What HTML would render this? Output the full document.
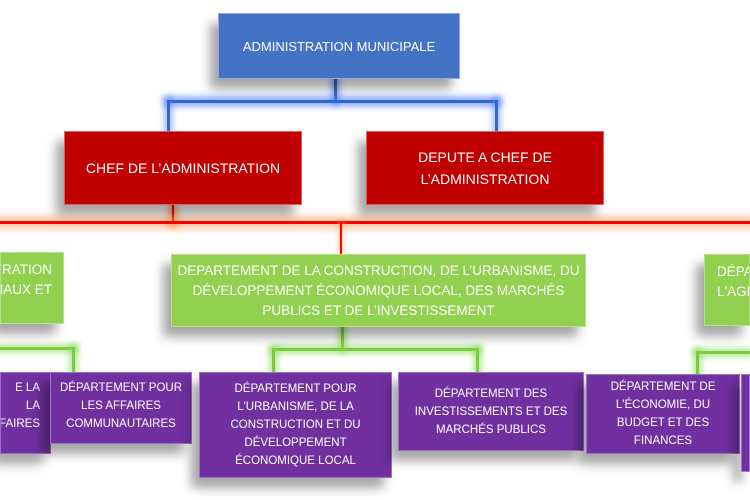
<!DOCTYPE html>
<html><head><meta charset="utf-8"><style>
html,body{margin:0;width:750px;height:500px;overflow:hidden;}
body{background:#fff;position:relative;font-family:"Liberation Sans",sans-serif;}
.b{position:absolute;display:flex;align-items:center;justify-content:center;text-align:center;color:#fff;box-sizing:border-box;box-shadow:-8px 10px 10px rgba(0,0,0,0.35);}
.bl{background:#4472c4;border:1px solid #8faadc;font-size:13px;}
.rd{background:#c00000;border:1px solid #e06060;font-size:14px;line-height:22px;}
.gr{background:#92d050;border:1px solid #b5e08a;font-size:13.5px;line-height:20px;}
.pu{background:#7030a0;border:1px solid #a070c8;font-size:11.5px;line-height:18px;}
.clip{overflow:hidden;white-space:nowrap;}
.l{position:absolute;}
</style></head><body>
<div class="l" style="left:334px;top:78px;width:3px;height:24px;background:#3366cc;box-shadow:0 0 6px 3px rgba(80,130,255,0.6)"></div>
<div class="l" style="left:167px;top:100px;width:331px;height:3px;background:#3366cc;box-shadow:0 0 6px 4px rgba(80,130,255,0.6)"></div>
<div class="l" style="left:167px;top:100px;width:3px;height:32px;background:#3366cc;box-shadow:0 0 6px 3px rgba(80,130,255,0.5)"></div>
<div class="l" style="left:495px;top:100px;width:3px;height:32px;background:#3366cc;box-shadow:0 0 6px 3px rgba(80,130,255,0.5)"></div>
<div class="l" style="left:172px;top:204px;width:2px;height:20px;background:#f00;box-shadow:0 0 6px 4px rgba(255,140,60,0.6)"></div>
<div class="l" style="left:0;top:221px;width:750px;height:3px;background:#f00;box-shadow:0 0 7px 5px rgba(255,150,80,0.5)"></div>
<div class="l" style="left:340px;top:222px;width:2px;height:32px;background:#f00;box-shadow:0 0 5px 2px rgba(255,150,80,0.4)"></div>
<div class="l" style="left:0;top:347px;width:75px;height:3px;background:#7ccc40;box-shadow:0 0 6px 3px rgba(140,220,90,0.6)"></div>
<div class="l" style="left:72px;top:347px;width:3px;height:26px;background:#7ccc40;box-shadow:0 0 6px 3px rgba(140,220,90,0.6)"></div>
<div class="l" style="left:341px;top:326px;width:3px;height:24px;background:#7ccc40;box-shadow:0 0 6px 3px rgba(140,220,90,0.6)"></div>
<div class="l" style="left:272px;top:348px;width:207px;height:3px;background:#7ccc40;box-shadow:0 0 6px 3px rgba(140,220,90,0.6)"></div>
<div class="l" style="left:272px;top:348px;width:3px;height:25px;background:#7ccc40;box-shadow:0 0 6px 3px rgba(140,220,90,0.6)"></div>
<div class="l" style="left:476px;top:348px;width:3px;height:25px;background:#7ccc40;box-shadow:0 0 6px 3px rgba(140,220,90,0.6)"></div>
<div class="l" style="left:696px;top:351px;width:54px;height:3px;background:#7ccc40;box-shadow:0 0 6px 3px rgba(140,220,90,0.6)"></div>
<div class="l" style="left:696px;top:351px;width:3px;height:24px;background:#7ccc40;box-shadow:0 0 6px 3px rgba(140,220,90,0.6)"></div>

<div class="b bl" style="left:218px;top:13px;width:242px;height:66px;">ADMINISTRATION MUNICIPALE</div>
<div class="b rd" style="left:64px;top:131px;width:238px;height:74px;">CHEF DE L’ADMINISTRATION</div>
<div class="b rd" style="left:366px;top:131px;width:238px;height:74px;">DEPUTE A CHEF DE<br>L’ADMINISTRATION</div>

<div class="b gr clip" style="left:0;top:252px;width:64px;height:72px;align-items:flex-start;justify-content:flex-end;text-align:right;padding-top:7px;padding-right:11px;">TRATION<br>NAUX ET</div>
<div class="b gr" style="left:171px;top:254px;width:415px;height:73px;">DEPARTEMENT DE LA CONSTRUCTION, DE L’URBANISME, DU<br>DÉVELOPPEMENT ÉCONOMIQUE LOCAL, DES MARCHÉS<br>PUBLICS ET DE L’INVESTISSEMENT</div>
<div class="b gr clip" style="left:704px;top:254px;width:46px;height:72px;align-items:flex-start;justify-content:flex-start;text-align:left;padding-top:7px;padding-left:12px;">DÉPA<br>L'AGR</div>

<div class="b pu clip" style="left:0;top:372px;width:51px;height:82px;justify-content:flex-end;text-align:right;padding-right:10px;align-items:flex-start;padding-top:6px;">E LA<br>LA<br>FFAIRES</div>
<div class="b pu" style="left:50px;top:372px;width:142px;height:72px;align-items:flex-start;padding-top:6px;">DÉPARTEMENT POUR<br>LES AFFAIRES<br>COMMUNAUTAIRES</div>
<div class="b pu" style="left:199px;top:372px;width:193px;height:106px;">DÉPARTEMENT POUR<br>L'URBANISME, DE LA<br>CONSTRUCTION ET DU<br>DÉVELOPPEMENT<br>ÉCONOMIQUE LOCAL</div>
<div class="b pu" style="left:398px;top:372px;width:186px;height:79px;">DÉPARTEMENT DES<br>INVESTISSEMENTS ET DES<br>MARCHÉS PUBLICS</div>
<div class="b pu" style="left:586px;top:374px;width:154px;height:80px;">DÉPARTEMENT DE<br>L'ÉCONOMIE, DU<br>BUDGET ET DES<br>FINANCES</div>
<div class="b pu" style="left:741px;top:374px;width:9px;height:98px;"></div>
</body></html>
